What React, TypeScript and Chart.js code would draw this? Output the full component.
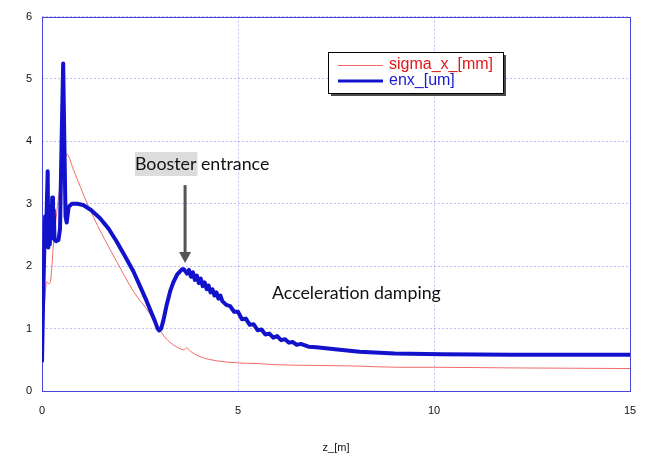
import React, { useEffect, useRef } from 'react';
import { Chart, registerables } from 'chart.js';

Chart.register(...registerables);

// ---- data ----
const zEnx = [
  0, 0.03, 0.06, 0.08, 0.1, 0.12, 0.145, 0.16, 0.18, 0.2, 0.22, 0.24, 0.26, 0.28, 0.3, 0.32, 0.36, 0.42,
  0.46, 0.5, 0.54, 0.57, 0.6, 0.63, 0.68, 0.76, 0.9, 1.05, 1.25, 1.48, 1.7, 1.9, 2.1, 2.33, 2.5, 2.67, 2.8,
  2.88, 2.95, 2.99, 3.04, 3.1, 3.18, 3.27, 3.35, 3.45, 3.57,
  3.62, 3.7, 3.75, 3.8, 3.85, 3.9, 3.95, 4.0, 4.05, 4.1, 4.15, 4.2, 4.25, 4.3, 4.35, 4.4, 4.45, 4.5, 4.55, 4.6,
  4.7, 4.8, 4.9, 5.0, 5.1, 5.2, 5.3, 5.4, 5.5,
  5.6, 5.7, 5.8, 5.9, 6.0, 6.1, 6.2, 6.3, 6.4, 6.5, 6.6, 6.8, 7.0, 7.3, 7.6, 8.1, 9.0, 10.2, 12, 15,
];
const enx = [
  0.46, 1.5, 2.3, 2.8, 2.35, 2.9, 3.52, 2.3, 2.75, 2.35, 2.95, 2.5, 3.1, 2.45, 2.9, 2.42, 2.4, 2.42,
  2.6, 4.0, 5.25, 4.0, 2.8, 2.7, 2.95, 3.0, 3.0, 2.98, 2.9, 2.77, 2.6, 2.4, 2.18, 1.92, 1.68, 1.44, 1.24,
  1.12, 1.0, 0.97, 1.0, 1.14, 1.38, 1.6, 1.74, 1.87, 1.95,
  1.95, 1.88, 1.94, 1.83, 1.90, 1.78, 1.85, 1.73, 1.80, 1.68, 1.74, 1.63, 1.69, 1.58, 1.63, 1.53, 1.58, 1.48, 1.53, 1.44,
  1.38, 1.36, 1.27, 1.27, 1.15, 1.16, 1.06, 1.07, 0.975,
  0.985, 0.905, 0.92, 0.855, 0.88, 0.815, 0.83, 0.775, 0.785, 0.74, 0.755, 0.71, 0.7, 0.68, 0.66, 0.63, 0.6, 0.59, 0.58, 0.58,
];
const zSigma = [
  0, 0.05, 0.12, 0.17, 0.22, 0.3, 0.45, 0.55, 0.63, 0.8, 1.17, 1.5, 1.9, 2.33, 2.75, 2.98, 3.15, 3.35,
  3.55, 3.62, 3.69, 3.8, 4.03, 4.5, 5.0, 5.5, 6, 7, 8, 9.1, 10, 12, 15,
];
const sigma = [
  1.0, 1.3, 1.75, 1.72, 1.78, 2.4, 3.24, 3.6, 3.8, 3.55, 2.98, 2.55, 2.08, 1.6, 1.24, 1.0, 0.85, 0.74,
  0.67, 0.66, 0.69, 0.63, 0.55, 0.48, 0.45, 0.44, 0.42, 0.41, 0.4, 0.38, 0.38, 0.37, 0.36,
];
const seriesLabels = ['sigma_x_[mm]', 'enx_[um]'];
const xTitle = 'z_[m]';
const xMin = 0, xMax = 15, xStep = 5;
const yMin = 0, yMax = 6, yStep = 1;
const annotBooster = 'Booster';
const annotEntrance = ' entrance';
const annotDamping = 'Acceleration damping';
const arrowZ = 3.65;
const arrowFrom = 3.3;
const arrowTo = 2.05;

const BLUE = '#1212cc';
const RED = '#f06a6a';
const FRAME = '#4646dc';
const GRID = 'rgba(110,110,240,0.45)';

const overlayPlugin = {
  id: 'overlay',
  beforeDatasetsDraw(chart: any) {
    const { ctx, chartArea: a } = chart;
    ctx.save();
    ctx.strokeStyle = FRAME;
    ctx.lineWidth = 1;
    ctx.strokeRect(Math.round(a.left) + 0.5, Math.round(a.top) + 0.5, Math.round(a.right - a.left), Math.round(a.bottom - a.top));
    ctx.restore();
  },
  afterDraw(chart: any) {
    const { ctx } = chart;
    const xs = chart.scales.x;
    const ys = chart.scales.y;
    ctx.save();
    // legend box
    const bx = 328, by = 52, bw = 175, bh = 41;
    ctx.fillStyle = '#4a4a4a';
    ctx.fillRect(bx + 3, by + 3, bw, bh);
    ctx.fillStyle = '#ffffff';
    ctx.fillRect(bx, by, bw, bh);
    ctx.strokeStyle = '#000';
    ctx.lineWidth = 1;
    ctx.strokeRect(bx + 0.5, by + 0.5, bw, bh);
    ctx.lineCap = 'butt';
    ctx.strokeStyle = RED; ctx.lineWidth = 1;
    ctx.beginPath(); ctx.moveTo(338, 65.5); ctx.lineTo(383, 65.5); ctx.stroke();
    ctx.strokeStyle = BLUE; ctx.lineWidth = 3;
    ctx.beginPath(); ctx.moveTo(338, 81); ctx.lineTo(383, 81); ctx.stroke();
    ctx.font = '16px "Liberation Sans", Arial, sans-serif';
    ctx.textBaseline = 'middle';
    ctx.textAlign = 'left';
    ctx.fillStyle = '#e01818';
    ctx.fillText(seriesLabels[0], 389, 65);
    ctx.fillStyle = '#1a1ad0';
    ctx.fillText(seriesLabels[1], 389, 81);

    // annotation text
    ctx.font = '17.8px Lato, "Open Sans", sans-serif';
    const tx = 135, ty = 164;
    const wb = ctx.measureText(annotBooster).width;
    ctx.fillStyle = '#dcdcdc';
    ctx.fillRect(tx, ty - 12, wb + 1, 24);
    ctx.fillStyle = '#111';
    ctx.fillText(annotBooster, tx, ty);
    ctx.fillText(annotEntrance, tx + wb, ty);
    ctx.fillText(annotDamping, 272, 293);

    // arrow
    const ax = xs.getPixelForValue(arrowZ);
    const y0 = ys.getPixelForValue(arrowFrom);
    const y1 = ys.getPixelForValue(arrowTo);
    ctx.strokeStyle = '#555';
    ctx.fillStyle = '#555';
    ctx.lineWidth = 3;
    ctx.beginPath(); ctx.moveTo(ax, y0); ctx.lineTo(ax, y1 - 10); ctx.stroke();
    ctx.beginPath(); ctx.moveTo(ax - 6, y1 - 11); ctx.lineTo(ax + 6, y1 - 11); ctx.lineTo(ax, y1); ctx.closePath(); ctx.fill();
    ctx.restore();
  },
};

export default function App() {
  const ref = useRef<HTMLCanvasElement | null>(null);
  useEffect(() => {
    if (!ref.current) return;
    const chart = new Chart(ref.current, {
      type: 'line',
      data: {
        datasets: [
          {
            label: seriesLabels[1],
            data: zEnx.map((z, i) => ({ x: z, y: enx[i] })),
            borderColor: BLUE,
            borderWidth: 4,
            pointRadius: 0,
            tension: 0,
            borderJoinStyle: 'round',
            fill: false,
          },
          {
            label: seriesLabels[0],
            data: zSigma.map((z, i) => ({ x: z, y: sigma[i] })),
            borderColor: RED,
            borderWidth: 1,
            pointRadius: 0,
            cubicInterpolationMode: 'monotone',
            fill: false,
          },
        ],
      },
      options: {
        animation: false,
        responsive: false,
        maintainAspectRatio: false,
        layout: { padding: { left: 0, right: 24, top: 13, bottom: 0 } },
        plugins: { legend: { display: false }, tooltip: { enabled: false } },
        scales: {
          x: {
            type: 'linear',
            min: xMin,
            max: xMax,
            ticks: {
              stepSize: xStep,
              color: '#111',
              font: { size: 11, family: '"Liberation Sans", Arial, sans-serif' },
              padding: 13,
              maxRotation: 0,
            },
            grid: { color: GRID, drawTicks: false, lineWidth: 1 },
            border: { display: false, dash: [2, 2] },
            title: {
              display: true,
              text: xTitle,
              color: '#111',
              font: { size: 11, family: '"Liberation Sans", Arial, sans-serif' },
              padding: { top: 0, bottom: 7 },
            },
            afterFit: (s: any) => { s.height = 71; },
          },
          y: {
            type: 'linear',
            min: yMin,
            max: yMax,
            ticks: {
              stepSize: yStep,
              color: '#111',
              font: { size: 11, family: '"Liberation Sans", Arial, sans-serif' },
              padding: 10,
            },
            grid: { color: GRID, drawTicks: false, lineWidth: 1 },
            border: { display: false, dash: [2, 2] },
            afterFit: (s: any) => { s.width = 42; },
          },
        },
      },
      plugins: [overlayPlugin],
    });
    return () => chart.destroy();
  }, []);
  return (
    <div style={{ position: 'absolute', left: 0, top: 0, width: 654, height: 462, background: '#fff' }}>
      <canvas ref={ref} width={654} height={462} style={{ width: 654, height: 462 }} />
    </div>
  );
}
